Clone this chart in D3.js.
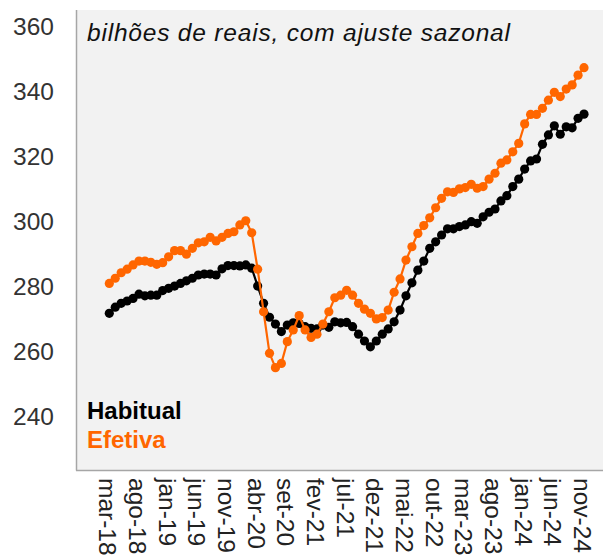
<!DOCTYPE html>
<html><head><meta charset="utf-8">
<script src="https://cdn.jsdelivr.net/npm/d3@7"></script>
<style>body{margin:0;background:#fff}svg{display:block}text{font-family:"Liberation Sans",Arial,sans-serif}</style>
</head><body>
<svg id="c" width="603" height="559"></svg>
<script>
const monthNames = ["jan","fev","mar","abr","mai","jun","jul","ago","set","out","nov","dez"];
// monthly categories mar-18 .. nov-24
const categories = [];
for (let y = 2018, m = 2; !(y === 2024 && m > 10); ) {
  categories.push(monthNames[m] + "-" + String(y).slice(2));
  m++; if (m > 11) { m = 0; y++; }
}
const habitual = [271.8,273.7,274.9,275.6,276.4,277.7,277.2,277.4,277.4,278.8,279.5,280.2,281.0,281.8,282.6,283.6,283.9,283.9,283.6,285.5,286.5,286.5,286.4,286.7,285.7,280.2,274.9,270.6,268.5,266.2,268.2,268.9,268.7,267.7,267.2,267.0,268.2,267.5,269.2,268.9,269.0,267.7,265.4,263.3,261.5,263.3,265.4,267.0,269.2,272.8,277.2,281.2,285.1,287.9,291.8,293.8,295.9,297.8,297.8,298.5,299.0,300.0,299.5,301.5,302.9,303.9,306.4,308.0,310.8,313.1,316.2,318.7,319.3,323.8,326.7,329.5,326.9,329.2,328.9,331.8,333.1];
const efetiva = [281.0,282.6,284.3,285.4,286.7,287.9,287.9,287.5,286.9,287.4,289.2,291.1,291.1,290.0,291.8,293.5,293.8,295.2,294.1,295.2,296.4,296.9,299.0,300.3,296.6,285.4,272.3,259.5,255.1,256.4,263.1,266.7,271.1,266.7,264.4,265.4,268.5,272.3,276.6,277.4,278.9,277.4,274.9,273.1,271.8,270.1,270.5,272.8,278.3,282.4,288.2,292.3,296.4,298.8,301.2,304.3,307.2,309.2,309.0,310.1,310.5,311.5,310.3,310.8,313.1,314.9,318.0,319.0,321.5,324.1,330.1,333.0,333.0,334.9,337.4,339.8,338.5,340.8,342.1,345.1,347.4];
const yTicks = [240,260,280,300,320,340,360];
const seriesNames = ["Habitual","Efetiva"];
const colors = ["#000000","#ff6600"];
const subtitle = "bilhões de reais, com ajuste sazonal";

const svg = d3.select("#c");
const frame = {x0: 77, x1: 603, y0: 10, y1: 470};
svg.append("rect").attr("x", frame.x0).attr("y", frame.y0)
  .attr("width", frame.x1 - frame.x0).attr("height", frame.y1 - frame.y0).attr("fill", "#f2f2f2");

const x = d3.scalePoint().domain(categories).range([109.3, 584]);
const y = d3.scaleLinear().domain([240, 360]).range([416.7, 26.7]);

// frame lines
svg.append("line").attr("x1", 76.5).attr("x2", 76.5).attr("y1", frame.y0).attr("y2", 470.5)
  .attr("stroke", "#a6a6a6").attr("stroke-width", 1.5);
svg.append("line").attr("x1", 76).attr("x2", 603).attr("y1", 470.5).attr("y2", 470.5)
  .attr("stroke", "#a6a6a6").attr("stroke-width", 1.5);

// y axis labels
const yAxis = d3.axisLeft(y).tickValues(yTicks).tickSize(0).tickPadding(0);
const gy = svg.append("g").attr("transform", "translate(54,0)").call(yAxis);
gy.select(".domain").remove();
gy.selectAll("text").attr("font-size", 24.5).attr("fill", "#333").attr("font-family", '"Liberation Sans",Arial,sans-serif');

// x axis labels every 5 months
const xAxis = d3.axisBottom(x).tickValues(categories.filter((d, i) => i % 5 === 0)).tickSize(0).tickPadding(0);
const gx = svg.append("g").attr("transform", "translate(0,478)").call(xAxis);
gx.select(".domain").remove();
gx.selectAll("text").attr("font-size", 24.5).attr("fill", "#222")
  .attr("font-family", '"Liberation Sans",Arial,sans-serif')
  .attr("text-anchor", "start").attr("transform", "rotate(90)")
  .attr("x", 0).attr("y", 0).attr("dy", 10.5);

// lines
const line = d3.line().x((d, i) => x(categories[i])).y(d => y(d));
[habitual, efetiva].forEach((s, k) => {
  const g = svg.append("g");
  g.append("path").datum(s).attr("d", line).attr("fill", "none")
    .attr("stroke", colors[k]).attr("stroke-width", 2.2);
  g.selectAll("circle").data(s).join("circle")
    .attr("cx", (d, i) => x(categories[i])).attr("cy", d => y(d)).attr("r", 4.6)
    .attr("fill", colors[k]);
});

// subtitle
svg.append("text").attr("x", 87).attr("y", 41).attr("font-size", 24.5)
  .attr("font-style", "italic").attr("fill", "#111")
  .attr("textLength", 423).attr("lengthAdjust", "spacing").text(subtitle);

// legend
seriesNames.forEach((n, k) => {
  svg.append("text").attr("x", 87).attr("y", 418.5 + k * 29).attr("font-size", 24)
    .attr("font-weight", "bold").attr("fill", colors[k]).text(n);
});
</script>
</body></html>
